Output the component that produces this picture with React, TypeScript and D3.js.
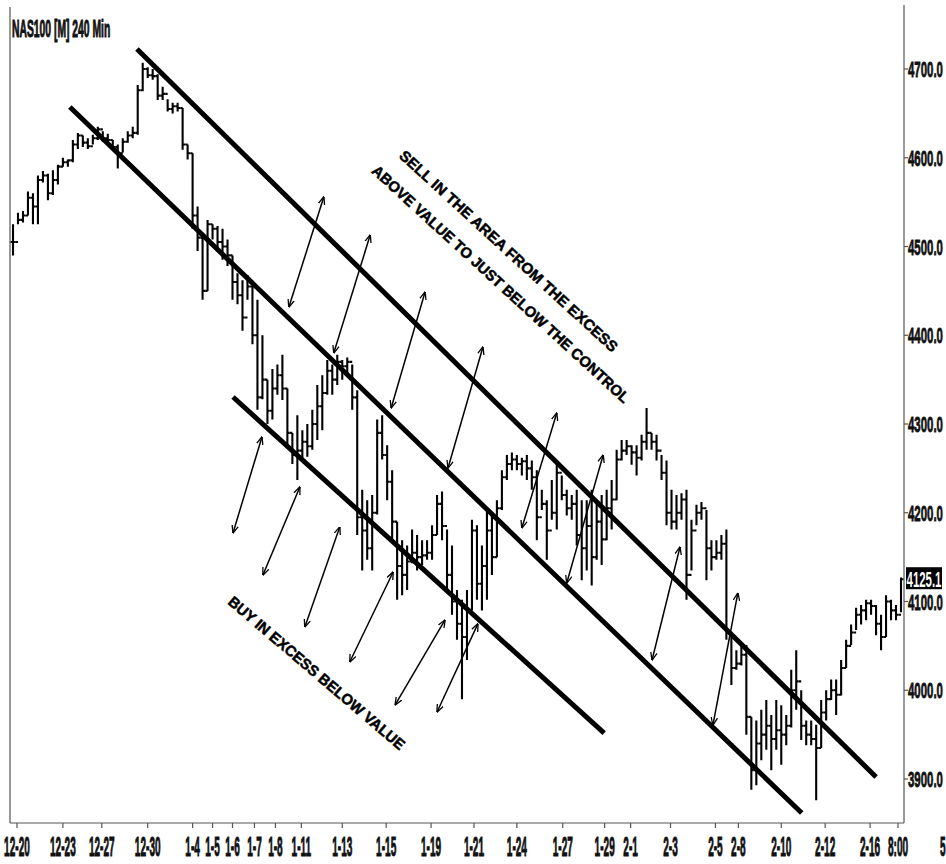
import React from 'react';
import * as d3 from 'd3';

// ---- data (240-min bars, NAS100) ----
const highs = [
  4525,4538,4540,4562,4560,4580,4585,4582,4586,4592,
  4600,4598,4620,4628,4625,4622,4626,4635,4630,4627,
  4620,4615,4622,4630,4635,4682,4707,4702,4700,4694,
  4680,4666,4662,4662,4656,4615,4605,4545,4510,4530,
  4525,4523,4520,4508,4490,4470,4462,4468,4456,4440,
  4400,4350,4362,4367,4378,4340,4290,4310,4293,4300,
  4316,4344,4355,4372,4367,4378,4372,4375,4367,4338,
  4226,4214,4220,4305,4310,4276,4248,4190,4169,4163,
  4181,4175,4169,4169,4186,4220,4224,4181,4163,4113,
  4102,4113,4192,4186,4163,4203,4197,4214,4248,4265,
  4268,4265,4262,4265,4259,4248,4226,4214,4237,4254,
  4242,4226,4220,4226,4214,4214,4226,4214,4220,4226,
  4237,4271,4282,4282,4276,4276,4288,4318,4290,4288,
  4265,4259,4226,4220,4222,4226,4192,4209,4212,4203,
  4169,4169,4175,4181,4065,4045,4051,4051,3970,3966,
  3978,3989,3972,3989,3983,3972,4023,4045,4000,3966,
  3966,3961,3989,4000,4012,4012,4034,4057,4074,4093,
  4096,4102,4102,4096,4085,4107,4102,4096,4127,
];
const lows = [
  4490,4525,4527,4535,4525,4525,4572,4552,4558,4570,
  4590,4590,4595,4610,4612,4610,4615,4620,4618,4617,
  4609,4588,4606,4617,4622,4626,4675,4690,4688,4665,
  4665,4652,4650,4652,4609,4598,4520,4495,4440,4450,
  4508,4498,4485,4478,4440,4435,4405,4440,4390,4316,
  4328,4300,4305,4333,4327,4276,4255,4237,4260,4263,
  4271,4282,4293,4333,4333,4344,4350,4355,4316,4175,
  4135,4147,4135,4198,4260,4214,4169,4102,4107,4113,
  4143,4135,4141,4147,4147,4175,4169,4113,4085,4057,
  3990,4034,4090,4102,4090,4102,4130,4150,4203,4237,
  4248,4248,4242,4237,4226,4169,4203,4147,4192,4181,
  4214,4197,4192,4163,4124,4135,4118,4147,4141,4169,
  4181,4214,4259,4265,4254,4242,4259,4271,4271,4259,
  4237,4186,4181,4181,4192,4102,4135,4186,4192,4124,
  4135,4147,4147,4057,4006,4023,4028,3950,3888,3893,
  3921,3933,3910,3933,3916,3938,3958,3978,3944,3938,
  3938,3876,3935,3966,3989,3972,3994,4025,4051,4068,
  4074,4079,4085,4062,4045,4060,4079,4079,4088,
];
const closes = [
  4505,4530,4535,4555,4545,4575,4580,4560,4575,4590,
  4595,4597,4615,4625,4617,4613,4622,4632,4622,4620,
  4612,4605,4618,4625,4628,4676,4700,4693,4692,4670,
  4672,4655,4658,4656,4615,4605,4535,4510,4450,4525,
  4520,4505,4500,4490,4460,4445,4420,4455,4400,4330,
  4350,4315,4340,4355,4340,4290,4265,4270,4280,4275,
  4300,4320,4335,4360,4350,4370,4365,4370,4330,4195,
  4180,4160,4200,4290,4265,4235,4190,4140,4130,4145,
  4155,4150,4152,4155,4175,4210,4185,4130,4100,4075,
  4060,4090,4180,4120,4140,4180,4150,4205,4240,4255,
  4260,4255,4258,4250,4240,4195,4210,4180,4200,4245,
  4220,4205,4210,4175,4160,4185,4150,4190,4170,4205,
  4215,4260,4270,4275,4268,4262,4280,4290,4280,4270,
  4245,4200,4190,4200,4215,4130,4180,4200,4205,4160,
  4150,4155,4165,4065,4025,4030,4040,3970,3910,3940,
  3950,3960,3945,3955,3950,3960,4000,4010,3960,3950,
  3945,3935,3975,3990,4000,3995,4025,4050,4065,4085,
  4090,4098,4095,4075,4060,4100,4090,4085,4125,
];

const xTickLabels = ['12-20','12-23','12-27','12-30','1-4','1-5','1-6','1-7','1-8','1-11','1-13','1-15','1-19','1-21','1-24','1-27','1-29','2-1','2-3','2-5','2-8','2-10','2-12','2-16','8:00','5'];
const xTickIndex = [0.8,10,17.8,27,36,40,44,48.4,52.6,57.8,66,74.8,83.8,92.4,101,110.2,118.6,123.8,131.8,140.8,145.4,154,162.8,171.8,177.4,186.4];

const yTicks = [3900,4000,4100,4200,4300,4400,4500,4600,4700];
const lastPrice = 4125.1;
const title = 'NAS100 [M] 240 Min';

// channel lines: [startIndex, startPrice, endIndex, endPrice]
const channels = [
  [24.85, 4722.5, 173.0, 3902.3],
  [11.4, 4657.2, 158.1, 3861.7],
  [44.1, 4330.4, 118.5, 3951.8],
];
// double-headed arrows: [index1, price1, index2, price2]
const sellArrows = [
  [55.3, 4431.8, 62.3, 4555.8],
  [64.3, 4380.0, 71.6, 4513.0],
  [75.8, 4318.0, 82.6, 4448.7],
  [87.2, 4250.4, 94.2, 4386.8],
  [102.0, 4182.8, 109.0, 4312.4],
  [111.0, 4120.8, 118.3, 4265.1],
  [128.1, 4034.1, 133.7, 4161.4],
  [140.3, 3960.8, 145.3, 4109.6],
];
const buyArrows = [
  [44.1, 4177.2, 49.9, 4285.4],
  [50.1, 4129.9, 57.5, 4229.0],
  [58.5, 4071.3, 65.5, 4183.9],
  [67.5, 4031.8, 76.2, 4133.2],
  [76.6, 3983.4, 86.6, 4079.2],
  [85.0, 3975.5, 93.2, 4075.0],
];
const notes = [
  { text: 'SELL IN THE AREA FROM THE EXCESS', idx: 99.2, price: 4493.8, angle: 42.5, len: 290 },
  { text: 'ABOVE VALUE TO JUST BELOW THE CONTROL', idx: 97.6, price: 4456.6, angle: 42.5, len: 343 },
  { text: 'BUY IN EXCESS BELOW VALUE', idx: 60.7, price: 4018.3, angle: 40.5, len: 227 },
];

const W = 946, H = 864;
const FONT = "'Liberation Sans', Arial, sans-serif";

export default function App() {
  const x = d3.scaleLinear().domain([0, closes.length - 1]).range([13, 901]);
  const y = d3.scaleLinear().domain([3900, 4700]).range([779, 69]);
  const plotLeft = 10, plotRight = 904, plotBottom = 823;

  const barPath = closes.map((c, i) => {
    const o = i === 0 ? c : closes[i - 1];
    const xi = x(i);
    return `M${xi},${y(highs[i])}V${y(lows[i])}M${xi - 2.4},${y(o)}H${xi}M${xi},${y(c)}H${xi + 2.4}`;
  }).join('');

  const line = d3.line<[number, number]>().x(d => x(d[0])).y(d => y(d[1]));

  return (
    <div style={{ position: 'absolute', left: 0, top: 0, width: W, height: H, background: '#fff' }}>
      <svg width={W} height={H} viewBox={`0 0 ${W} ${H}`} style={{ display: 'block' }}>
        <defs>
          <marker id="ah" viewBox="0 0 10 10" refX="9.5" refY="5" markerWidth="8" markerHeight="8"
            orient="auto-start-reverse" markerUnits="userSpaceOnUse">
            <path d="M0,1 L10,5 L0,9" fill="none" stroke="#000" strokeWidth={1.6} />
          </marker>
        </defs>
        <rect x={0} y={0} width={W} height={H} fill="#fff" />

        {/* frame */}
        <g stroke="#555" strokeWidth={1.2} fill="none">
          <line x1={plotLeft} y1={7} x2={plotLeft} y2={plotBottom} />
          <line x1={plotRight} y1={5} x2={plotRight} y2={plotBottom} />
          <line x1={plotLeft} y1={plotBottom} x2={plotRight} y2={plotBottom} />
        </g>

        {/* price bars */}
        <path d={barPath} stroke="#000" strokeWidth={2.1} fill="none" />

        {/* channel lines */}
        {channels.map((c, i) => (
          <path key={'c' + i} d={line([[c[0], c[1]], [c[2], c[3]]]) || ''} stroke="#000" strokeWidth={5} fill="none" />
        ))}

        {/* arrows */}
        {[...sellArrows, ...buyArrows].map((a, i) => (
          <path key={'a' + i} d={line([[a[0], a[1]], [a[2], a[3]]]) || ''} stroke="#000" strokeWidth={1.5}
            fill="none" markerStart="url(#ah)" markerEnd="url(#ah)" />
        ))}

        {/* annotation text */}
        {notes.map((n, i) => (
          <text key={'n' + i} transform={`translate(${x(n.idx)},${y(n.price)}) rotate(${n.angle})`}
            textAnchor="middle" dominantBaseline="middle" fontFamily={FONT} fontWeight="bold"
            fontSize={15} textLength={n.len} lengthAdjust="spacingAndGlyphs" fill="#000"
            stroke="#000" strokeWidth={0.5}>{n.text}</text>
        ))}

        {/* title */}
        <text transform="translate(12,37) scale(0.45,1)" fontFamily={FONT} fontWeight="bold" fontSize={23}
          fill="#111" stroke="#111" strokeWidth={1}>{title}</text>

        {/* right axis */}
        {yTicks.map(t => (
          <g key={'y' + t}>
            <line x1={plotRight} x2={plotRight + 4} y1={y(t)} y2={y(t)} stroke="#555" strokeWidth={1.2} />
            <text transform={`translate(${plotRight + 4},${y(t) + 8}) scale(0.52,1)`} fontFamily={FONT}
              fontWeight="bold" fontSize={22} fill="#111" stroke="#111" strokeWidth={0.8}>{d3.format('.1f')(t)}</text>
          </g>
        ))}
        <rect x={906} y={y(lastPrice) - 12} width={36} height={22} fill="#000" />
        <text transform={`translate(${924},${y(lastPrice) + 8}) scale(0.52,1)`} textAnchor="middle" fontFamily={FONT}
          fontWeight="bold" fontSize={22} fill="#fff">{d3.format('.1f')(lastPrice)}</text>

        {/* bottom axis */}
        {xTickLabels.map((lab, i) => {
          const xi = x(xTickIndex[i]);
          return (
            <g key={'x' + i}>
              {xi <= plotRight && (
                <line x1={xi} x2={xi} y1={plotBottom} y2={plotBottom + 5} stroke="#555" strokeWidth={1.2} />
              )}
              <text transform={`translate(${xi},${856}) scale(0.36,1)`} textAnchor="middle" fontFamily={FONT}
                fontWeight="bold" fontSize={28} fill="#111" stroke="#111" strokeWidth={1}>{lab}</text>
            </g>
          );
        })}
      </svg>
    </div>
  );
}
